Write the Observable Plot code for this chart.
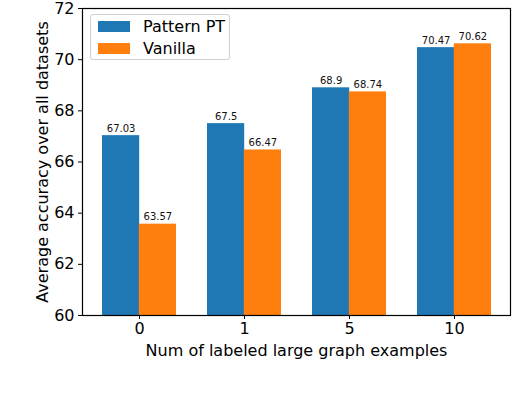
<!DOCTYPE html>
<html><head><meta charset="utf-8">
<script src="https://cdn.jsdelivr.net/npm/d3@7"></script>
<script src="https://cdn.jsdelivr.net/npm/@observablehq/plot@0.6"></script>
<style>
body{margin:0;background:#fff;font-family:"DejaVu Sans",sans-serif;}
#wrap{position:relative;width:514px;height:394px;}
#legend{position:absolute;left:90px;top:14px;width:140px;height:46px;border:1px solid #d0d0d0;border-radius:3px;background:rgba(255,255,255,0.8);box-sizing:border-box;font-size:16px;color:#000;}
.item{position:absolute;left:7px;display:flex;align-items:center;}
.sw{width:32px;height:11px;margin-right:13px;}
</style></head><body>
<div id="wrap"><div id="legend"></div></div>
<script>
const categories = ["0","1","5","10"];
const series = ["Pattern PT","Vanilla"];
const patternPT = [67.03, 67.5, 68.9, 70.47];
const vanilla = [63.57, 66.47, 68.74, 70.62];
const valueLabels = {"Pattern PT": ["67.03","67.5","68.9","70.47"], "Vanilla": ["63.57","66.47","68.74","70.62"]};
const colors = ["#1f77b4","#ff7f0e"];
const yTicks = [60,62,64,66,68,70,72];

const data = [];
categories.forEach((c,i)=>{
  data.push({cat:c, series:"Pattern PT", value:patternPT[i], label:valueLabels["Pattern PT"][i]});
  data.push({cat:c, series:"Vanilla", value:vanilla[i], label:valueLabels["Vanilla"][i]});
});

const W=514, H=394, mL=82, mR=4, mT=8, mB=79;
const pIn=0.3, pOut=0.185;
const step=(W-mL-mR)/(categories.length - pIn + 2*pOut);
const half=step*(1-pIn)/2;

const A = data.filter(d=>d.series==="Pattern PT");
const B = data.filter(d=>d.series==="Vanilla");

const chart = Plot.plot({
  width:W, height:H, marginLeft:mL, marginRight:mR, marginTop:mT, marginBottom:mB,
  style:{fontFamily:"DejaVu Sans, sans-serif", background:"white", color:"black"},
  x:{type:"band", domain:categories, paddingInner:pIn, paddingOuter:pOut},
  y:{domain:[60,72]},
  marks:[
    Plot.barY(A,{x:"cat", y1:60, y2:"value", fill:colors[0], insetLeft:0, insetRight:half}),
    Plot.barY(B,{x:"cat", y1:60, y2:"value", fill:colors[1], insetLeft:half, insetRight:0}),
    Plot.text(A,{x:"cat", y:"value", text:"label", dx:-half/2, dy:-4, lineAnchor:"bottom", fontSize:10, fill:"#111"}),
    Plot.text(B,{x:"cat", y:"value", text:"label", dx:half/2, dy:-4, lineAnchor:"bottom", fontSize:10, fill:"#111"}),
    Plot.axisY({ticks:yTicks, tickSize:4, tickPadding:4, fontSize:16, label:"Average accuracy over all datasets", labelAnchor:"center", labelArrow:"none", labelOffset:46}),
    Plot.axisX({tickSize:4, tickPadding:3, fontSize:16, label:"Num of labeled large graph examples", labelAnchor:"center", labelArrow:"none", labelOffset:40}),
    Plot.frame({stroke:"black", strokeWidth:1.2})
  ]
});
document.getElementById("wrap").prepend(chart);

const lg = document.getElementById("legend");
series.forEach((s,i)=>{
  const it=document.createElement("div"); it.className="item"; it.style.top=(i===0?2:24)+"px";
  const sw=document.createElement("div"); sw.className="sw"; sw.style.background=colors[i];
  const t=document.createElement("span"); t.textContent=s;
  it.appendChild(sw); it.appendChild(t); lg.appendChild(it);
});
</script>
</body></html>
